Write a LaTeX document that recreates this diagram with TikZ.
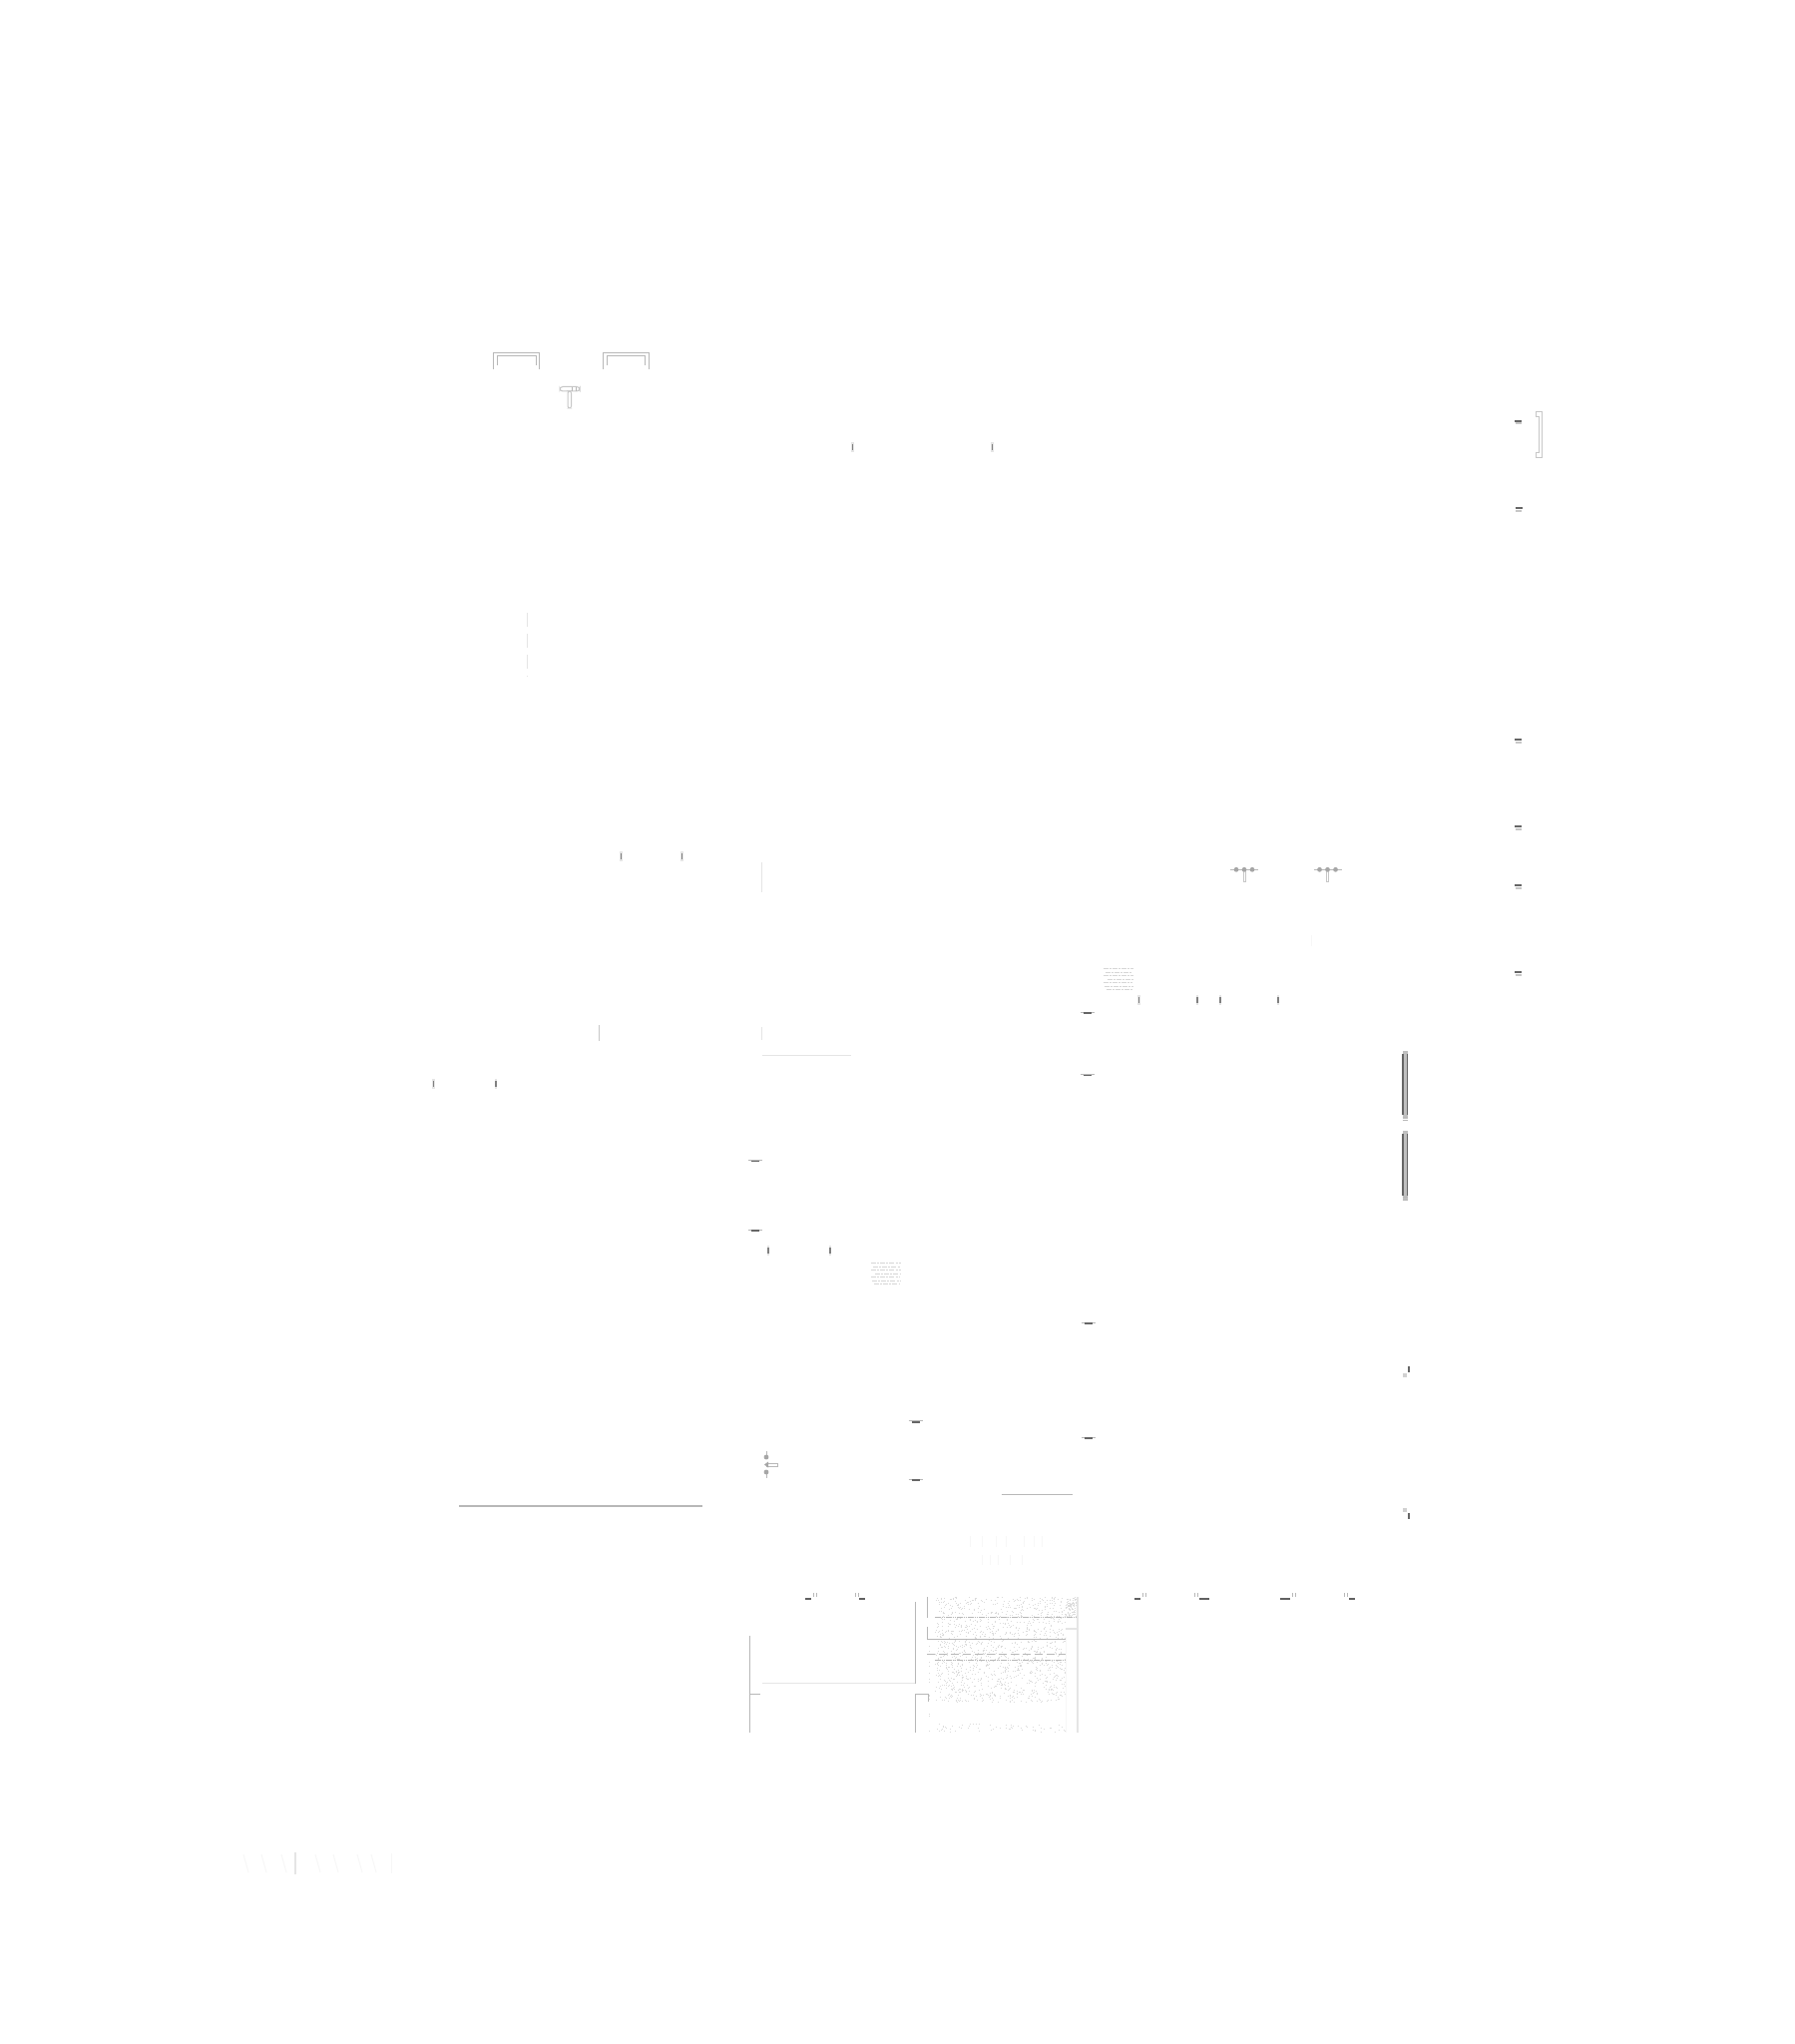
\documentclass[tikz,border=0pt]{standalone}
\tikzset{
  bar/.style={draw=black!60,line width=1pt},
  barlight/.style={draw=black!22,line width=1pt},
  edge/.style={draw=black!28,line width=0.5pt},
  pale/.style={draw=black!10,line width=0.5pt},
  faint/.style={draw=black!3,line width=0.5pt},
  tickmark/.style={draw=black!50,line width=0.6pt},
  halo/.style={draw=black!10,line width=1.2pt},
  blob/.style={fill=black!35,draw=none},
  tube/.style={draw=black!22,line width=0.4pt,fill=white},
  speck/.style={fill=black!14,draw=none},
  minibar/.style={draw=black!62,line width=1pt},
  minitext/.style={draw=black!16,line width=0.5pt},
}
\newcommand{\vtick}[2]{%
  \draw[halo] (#1,#2-5)--(#1,#2+5);
  \draw[tickmark] (#1,#2-3)--(#1,#2+3);}
\newcommand{\hbarmark}[2]{%
  \draw[barlight] (#1-3,#2+2.5)--(#1+3,#2+2.5);
  \draw[bar] (#1-3.5,#2)--(#1+3.5,#2);}
\newcommand{\hbarline}[2]{%
  \draw[edge] (#1-7,#2-1)--(#1+7,#2-1);
  \draw[bar,line width=0.8pt] (#1-4,#2)--(#1+4,#2);}
\newcommand{\dottrio}[2]{%
  \draw[edge] (#1-14,#2)--(#1+14,#2);
  \draw[tube] (#1-1,#2) rectangle (#1+1,#2+12);
  \fill[blob] (#1-8,#2) circle (2.4);
  \fill[blob] (#1,#2) circle (2.4);
  \fill[blob] (#1+8,#2) circle (2.4);}
\newcommand{\textblock}[2]{%
  \foreach \dy/\dx/\dl in {0/0/30,3.5/2/27,7/0/30,10.5/4/26,14/0/29,17.5/1/29,21/3/26}{
    \draw[minitext,dash pattern=on 2.5pt off 0.6pt on 1pt off 0.5pt] (#1+\dx,#2+\dy)--(#1+\dx+\dl,#2+\dy);}}
\begin{document}
\begin{tikzpicture}[x=0.5pt,y=-0.5pt]
\useasboundingbox (0,0) rectangle (1798,2048);
\fill[white] (0,0) rectangle (1798,2048);
% top brackets
\draw[edge] (494,370)--(494,353.5)--(540.5,353.5)--(540.5,370);
\draw[edge] (498,366)--(498,357)--(537,357)--(537,366);
\draw[edge] (604,370)--(604,353.5)--(650.5,353.5)--(650.5,370);
\draw[edge] (608,366)--(608,357)--(646,357)--(646,366);
% T fitting
\draw[tube,line width=0.5pt,rounded corners=1.5] (561,387.5) rectangle (581,392);
\draw[tube,line width=0.5pt,rounded corners=1] (569,392) rectangle (572.5,409);
\draw[edge] (573,388)--(573,392) (577,388)--(577,392);
% small ticks
\vtick{854.5}{448}
\vtick{994.5}{448}
\vtick{622.5}{858}
\vtick{683.5}{858}
\vtick{434.5}{1086}
\vtick{497}{1086}
\vtick{1141.5}{1002}
\vtick{1200}{1002}
\vtick{1223}{1002}
\vtick{1281}{1002}
\vtick{770}{1253}
\vtick{832}{1253}
% right bracket and bars
\draw[barlight,line width=0.5pt] (1539,413)--(1545.5,413)--(1545.5,459)--(1539,459)--(1539,454)--(1542,454)--(1542,418)--(1539,418)--cycle;
\hbarmark{1521.5}{421.7}
\hbarmark{1522}{509}
\hbarmark{1521.5}{741}
\hbarmark{1521.5}{828}
\hbarmark{1521.5}{887}
\hbarmark{1521.5}{974}
% pale lines
\draw[pale,dash pattern=on 7pt off 3.5pt] (528,614)--(528,678);
\draw[pale,line width=0.8pt] (763.5,864)--(763.5,894);
\draw[pale,line width=0.8pt] (763.5,1029)--(763.5,1042);
\draw[pale] (763.5,1057)--(853,1057);
\draw[barlight,line width=0.5pt] (600.5,1027)--(600.5,1043);
\draw[edge,line width=0.9pt] (460,1508.7)--(704,1508.7);
% valve groups
\dottrio{1247}{871.3}
\dottrio{1330.5}{871.3}
\draw[faint] (1314,937)--(1314,948);
% fine text blocks
\textblock{1105.7}{970.7}
\textblock{873}{1265.7}
% middle bars
\hbarline{1090}{1015}
\hbarline{1090}{1077.5}
\hbarline{757}{1163.5}
\hbarline{756.5}{1233}
\hbarline{917.7}{1424.7}
\hbarline{917.7}{1483}
\hbarline{1091}{1326}
\hbarline{1091}{1441}
% double vertical bars
\fill[black!25] (1405.7,1053) rectangle (1410.5,1121);
\draw[bar,line width=0.6pt] (1406,1056)--(1406,1117) (1410.2,1056)--(1410.2,1117);
\draw[edge] (1405.7,1122)--(1410.5,1122) (1405.7,1119.5)--(1410.5,1119.5);
\fill[black!25] (1405.7,1133) rectangle (1410.5,1202);
\draw[bar,line width=0.6pt] (1406,1136)--(1406,1198) (1410.2,1136)--(1410.2,1198);
\draw[edge] (1405.7,1202)--(1410.5,1202) (1405.7,1199.5)--(1410.5,1199.5);
% corner marks
\draw[bar,line width=0.7pt] (1412,1369)--(1412,1375);
\fill[black!18] (1405.5,1376) rectangle (1410,1380);
\fill[black!18] (1405.5,1511) rectangle (1410,1515);
\draw[bar,line width=0.7pt] (1412,1516)--(1412,1522);
% left valve
\draw[edge] (768,1454)--(768,1460) (768,1475)--(768,1481);
\fill[blob] (768,1460) circle (2.4);
\fill[blob] (768,1475) circle (2.4);
\draw[edge,line width=0.3pt] (768,1466)--(779,1466)--(779,1469)--(768,1469);
\fill[blob] (766,1467.5) -- (770,1464.5) -- (770,1470.5) -- cycle;
\draw[edge,line width=0.5pt] (1003.5,1497)--(1075,1497);
% faint title text strokes
\foreach \x in {972,984,998,1008,1026,1036,1044}{\draw[faint] (\x,1539)--(\x,1550);}
\foreach \x in {984,992,1000,1012,1024}{\draw[faint] (\x,1558)--(\x,1568);}
% header marks over the lower plan
\draw[minibar] (807,1602)--(813,1602);
\draw[edge,line width=0.4pt] (815,1596)--(815,1600) (818,1596)--(818,1600);
\draw[minibar] (861,1602)--(867,1602);
\draw[edge,line width=0.4pt] (857,1596)--(857,1600) (860,1596)--(860,1600);
\draw[minibar] (1137,1602)--(1143,1602);
\draw[edge,line width=0.4pt] (1145,1596)--(1145,1600) (1148,1596)--(1148,1600);
\draw[minibar] (1202,1602)--(1212,1602);
\draw[edge,line width=0.4pt] (1197,1596)--(1197,1600) (1200,1596)--(1200,1600);
\draw[minibar] (1283,1602)--(1293,1602);
\draw[edge,line width=0.4pt] (1295,1596)--(1295,1600) (1298,1596)--(1298,1600);
\draw[minibar] (1352,1602)--(1358,1602);
\draw[edge,line width=0.4pt] (1347,1596)--(1347,1600) (1350,1596)--(1350,1600);
% lower plan outline
\draw[edge,line width=0.5pt] (751.3,1639)--(751.3,1735.7);
\draw[edge] (751.3,1697.7)--(762,1697.7);
\draw[edge,line width=0.5pt] (917,1605)--(917,1686.7);
\draw[pale,line width=0.6pt] (764,1686.7)--(917,1686.7);
\draw[edge,line width=0.5pt] (917,1735.7)--(917,1697.7)--(930,1697.7)--(930,1705);
\draw[edge,line width=0.4pt] (929.3,1600)--(929.3,1621);
\draw[edge,line width=0.4pt] (929.3,1630)--(929.3,1642)--(937,1642);
% stipple
\pgfmathsetseed{4242}
\foreach \i in {1,...,1300}{
  \pgfmathsetmacro{\sx}{937+rnd*(1068-937)}
  \pgfmathsetmacro{\sy}{1600+rnd*(1705-1600)}
  \fill[speck] (\sx,\sy) rectangle ++(0.8,0.8);}
\foreach \i in {1,...,100}{
  \pgfmathsetmacro{\sx}{1068+rnd*(1079-1068)}
  \pgfmathsetmacro{\sy}{1600+rnd*(1620-1600)}
  \fill[speck] (\sx,\sy) rectangle ++(0.8,0.8);}
\foreach \i in {1,...,60}{
  \pgfmathsetmacro{\sx}{937+rnd*(1068-937)}
  \pgfmathsetmacro{\sy}{1727+rnd*(1735-1727)}
  \fill[speck] (\sx,\sy) rectangle ++(0.8,0.8);}
\foreach \i in {1,...,14}{
  \pgfmathsetmacro{\sy}{1645+rnd*(1735-1645)}
  \fill[speck] (931,\sy) rectangle ++(1,0.8);}
\draw[edge,line width=0.4pt,dash pattern=on 0.8pt off 0.3pt] (937,1620.7)--(1078,1620.7);
\draw[edge,line width=0.4pt] (937,1642)--(1068,1642);
\draw[edge,line width=0.4pt,dash pattern=on 4pt off 2pt] (929,1657.7)--(1068,1657.7);
\draw[edge,line width=0.4pt,dash pattern=on 0.8pt off 0.3pt] (937,1663)--(1068,1663);
\draw[pale,line width=0.8pt] (1068,1632)--(1080,1632);
\draw[pale,line width=0.6pt] (1080,1600)--(1080,1735.7);
\draw[faint] (1068,1640)--(1068,1735.7);
% faint bottom lettering
\draw[pale,line width=0.6pt] (296,1856)--(296,1878);
\draw[faint] (392,1857)--(392,1877);
\foreach \x in {244,262,282,316,334,358,372}{\draw[faint] (\x,1858)--(\x+5,1876);}
\end{tikzpicture}
\end{document}
